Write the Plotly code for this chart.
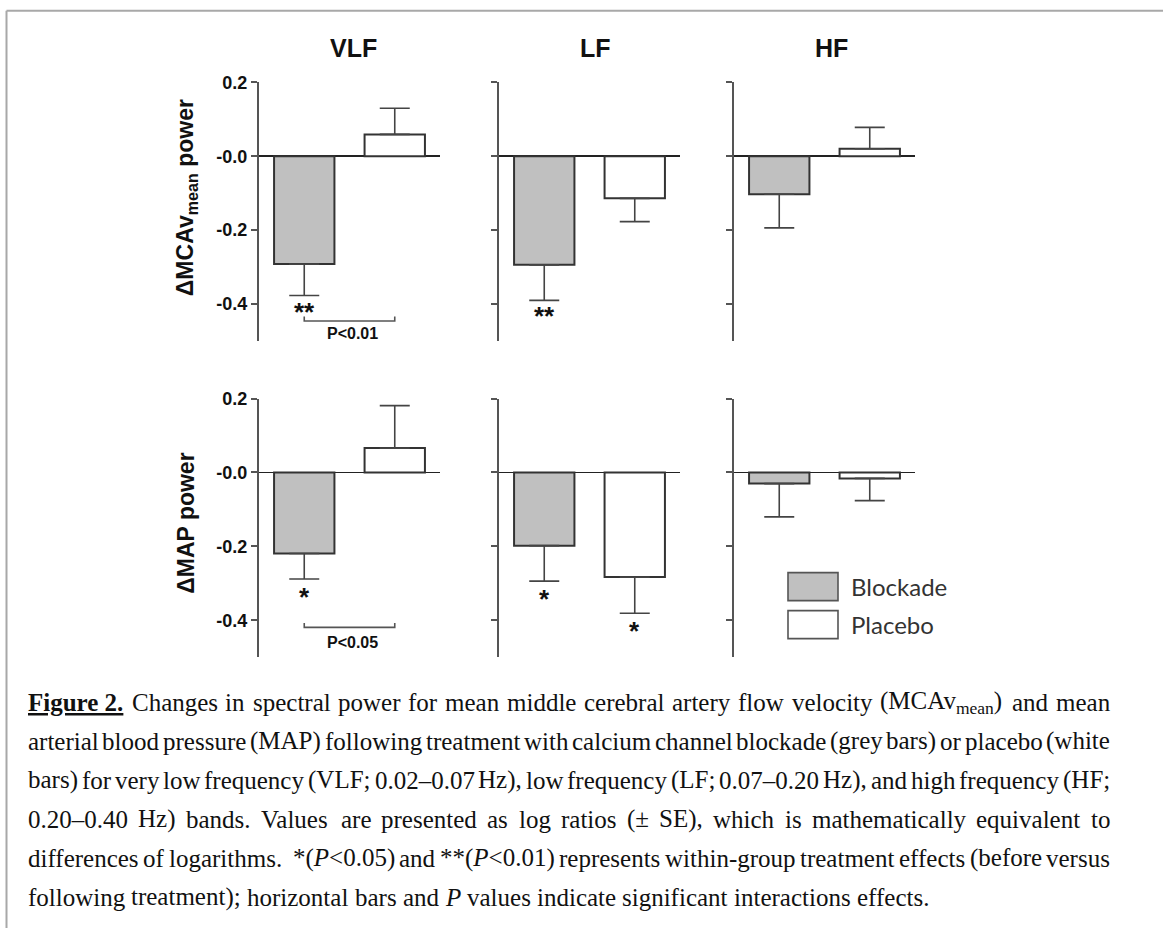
import re
import plotly.graph_objects as go

W, H = 1163, 928

# ---------------- data ----------------
groups = ["Blockade", "Placebo"]
bands = ["VLF", "LF", "HF"]
measures = ["ΔMCAv<sub>mean</sub> power", "ΔMAP power"]

# MCAv_mean power (top row): [blockade, placebo] per band
mcav_vals = {"VLF": [-0.292, 0.059], "LF": [-0.294, -0.114], "HF": [-0.103, 0.020]}
mcav_se = {"VLF": [0.085, 0.071], "LF": [0.096, 0.063], "HF": [0.091, 0.058]}
# MAP power (bottom row)
map_vals = {"VLF": [-0.219, 0.066], "LF": [-0.198, -0.283], "HF": [-0.030, -0.016]}
map_se = {"VLF": [0.069, 0.115], "LF": [0.096, 0.098], "HF": [0.090, 0.060]}

mcav_stars = {"VLF": ["**", ""], "LF": ["**", ""], "HF": ["", ""]}
map_stars = {"VLF": ["*", ""], "LF": ["*", "*"], "HF": ["", ""]}

# interaction brackets (band -> (y level, label, label y))
mcav_brackets = {"VLF": (-0.446, "P&lt;0.01", -0.481)}
map_brackets = {"VLF": (-0.419, "P&lt;0.05", -0.459)}

tick_vals = [0.2, 0.0, -0.2, -0.4]
tick_text = ["0.2", "-0.0", "-0.2", "-0.4"]
y_range = [-0.5, 0.2]

caption_lines = [
    "<b><u>Figure&nbsp;2.</u></b> Changes in spectral power for mean middle cerebral artery flow velocity (MCAv<sub>mean</sub>) and mean",
    "arterial blood pressure (MAP) following treatment with calcium channel blockade (grey bars) or placebo (white",
    "bars) for very low frequency (VLF; 0.02–0.07 Hz), low frequency (LF; 0.07–0.20 Hz), and high frequency (HF;",
    "0.20–0.40 Hz) bands. Values are presented as log ratios (± SE), which is mathematically equivalent to",
    "differences of logarithms.&nbsp; *(<i>P</i>&lt;0.05) and **(<i>P</i>&lt;0.01) represents within-group treatment effects (before versus",
    "following treatment); horizontal bars and <i>P</i> values indicate significant interactions effects.",
]

# ---------------- styling ----------------
GREY = "#c0c0c0"
WHITE = "#ffffff"
EDGE = "#333333"
AXC = "#555555"
SANS = "Liberation Sans, Arial, sans-serif"
SERIF = "Liberation Serif, Times New Roman, serif"

# vertical placement helper (page pixel from top -> paper fraction),
# corrected for the slight vertical offset/compression seen in the render
V_OFF, V_SCALE = 8.6, 0.9905


def py(ypx):
    return 1 - ((ypx - V_OFF) / V_SCALE) / H


col_left_px = [259, 499, 734]
panel_w_px = 181
row_top_px = [81, 397.7]
panel_h_px = 259

fig = go.Figure()
shapes = []
annotations = []

rows = [
    (mcav_vals, mcav_se, mcav_stars, mcav_brackets, -16),
    (map_vals, map_se, map_stars, map_brackets, -18),
]

n = 0
for r, (vals, ses, stars, brackets, star_shift) in enumerate(rows):
    for c, band in enumerate(bands):
        n += 1
        xa = "x" if n == 1 else f"x{n}"
        ya = "y" if n == 1 else f"y{n}"
        xl = col_left_px[c]
        yt = row_top_px[r]
        xdom = [xl / W, (xl + panel_w_px) / W]
        ydom = [py(yt + panel_h_px), py(yt)]
        v = vals[band]
        s = ses[band]
        up = [s[i] if v[i] >= 0 else 0 for i in range(2)]
        dn = [s[i] if v[i] < 0 else 0 for i in range(2)]
        fig.add_trace(go.Bar(
            x=groups, y=v, width=0.667,
            marker=dict(color=[GREY, WHITE], line=dict(color=EDGE, width=2)),
            error_y=dict(type="data", symmetric=False, array=up, arrayminus=dn,
                         color="#444444", thickness=1.6, width=15),
            xaxis=xa, yaxis=ya, showlegend=False, hoverinfo="skip",
        ))
        xkey = "xaxis" if n == 1 else f"xaxis{n}"
        ykey = "yaxis" if n == 1 else f"yaxis{n}"
        yax = dict(domain=ydom, range=y_range, anchor=xa,
                   showline=True, linecolor=AXC, linewidth=2,
                   ticks="outside", tickcolor=AXC, ticklen=6, tickwidth=2,
                   tickvals=tick_vals,
                   showticklabels=(c == 0),
                   tickfont=dict(family=SANS, size=18, color="#111111"),
                   zeroline=True, zerolinecolor="#222222", zerolinewidth=1.6,
                   showgrid=False, fixedrange=True)
        if c == 0:
            yax["ticktext"] = [f"<b>{t}</b>" for t in tick_text]
        fig.update_layout(**{
            xkey: dict(domain=xdom, range=[-0.5, 1.5], type="category",
                       categoryorder="array", categoryarray=groups,
                       visible=False, anchor=ya, fixedrange=True),
            ykey: yax,
        })
        # significance stars
        for i, st in enumerate(stars[band]):
            if st:
                annotations.append(dict(
                    x=i, y=v[i] - s[i], xref=xa, yref=ya, text=f"<b>{st}</b>",
                    showarrow=False, yanchor="middle", yshift=star_shift,
                    font=dict(family=SANS, size=26, color="#111111")))
        # interaction bracket
        if band in brackets:
            yb, lab, ylab = brackets[band]
            hook = 0.012
            shapes.append(dict(
                type="path", xref=xa, yref=ya,
                path=f"M 0,{yb + hook} L 0,{yb} L 1,{yb} L 1,{yb + hook}",
                line=dict(color=AXC, width=1.6)))
            annotations.append(dict(
                x=0.5, y=ylab, xref=xa, yref=ya, text=f"<b>{lab}</b>",
                showarrow=False, xshift=3,
                font=dict(family=SANS, size=16, color="#111111")))

# band titles
title_x_px = [353, 595, 831]
for c, band in enumerate(bands):
    annotations.append(dict(
        x=title_x_px[c] / W, y=py(47), xref="paper", yref="paper",
        text=f"<b>{band}</b>", showarrow=False, xanchor="center", yanchor="middle",
        font=dict(family=SANS, size=25, color="#111111")))

# y-axis titles
ytitle_y_px = [197, 523]
for r, m in enumerate(measures):
    annotations.append(dict(
        x=186 / W, y=py(ytitle_y_px[r]), xref="paper", yref="paper",
        text=f"<b>{m}</b>", textangle=-90, showarrow=False,
        xanchor="center", yanchor="middle",
        font=dict(family=SANS, size=23, color="#111111")))

# legend (drawn)
leg_boxes = [(572, 600, GREY), (610, 638, WHITE)]
for i, g in enumerate(groups):
    y0, y1, col = leg_boxes[i]
    shapes.append(dict(type="rect", xref="paper", yref="paper",
                       x0=788 / W, x1=838 / W, y0=py(y1), y1=py(y0),
                       fillcolor=col, line=dict(color="#555555", width=1.6)))
    annotations.append(dict(
        x=849 / W, y=py((y0 + y1) / 2), xref="paper", yref="paper",
        text=g, showarrow=False, xanchor="left", yanchor="middle",
        font=dict(family="Lato, Liberation Sans, sans-serif", size=24, color="#333333")))

# page frame
top_frame = 1 - 0.8 / H
shapes.append(dict(type="line", xref="paper", yref="paper",
                   x0=6.5 / W, x1=6.5 / W, y0=0, y1=top_frame,
                   line=dict(color="#a8a8a8", width=2)))
shapes.append(dict(type="line", xref="paper", yref="paper",
                   x0=6.5 / W, x1=1, y0=top_frame, y1=top_frame,
                   line=dict(color="#a8a8a8", width=2)))

# ---------------- caption (justified, word by word) ----------------
TR = {" ": 250, "!": 333, "(": 333, ")": 333, "*": 500, "+": 564, ",": 250, "-": 333,
      ".": 250, "/": 278, ":": 278, ";": 278, "<": 564, "=": 564, ">": 564, "–": 500,
      "±": 564, "\u00a0": 250,
      "A": 722, "B": 667, "C": 667, "D": 722, "E": 611, "F": 556, "G": 722, "H": 722,
      "I": 333, "J": 389, "K": 722, "L": 611, "M": 889, "N": 722, "O": 722, "P": 556,
      "Q": 722, "R": 667, "S": 556, "T": 611, "U": 722, "V": 722, "W": 944, "X": 722,
      "Y": 722, "Z": 611,
      "a": 444, "b": 500, "c": 444, "d": 500, "e": 444, "f": 333, "g": 500, "h": 500,
      "i": 278, "j": 278, "k": 500, "l": 278, "m": 778, "n": 500, "o": 500, "p": 500,
      "q": 500, "r": 333, "s": 389, "t": 278, "u": 500, "v": 500, "w": 722, "x": 500,
      "y": 500, "z": 444}
for d in "0123456789":
    TR[d] = 500
TB = {"F": 611, "i": 278, "g": 500, "u": 556, "r": 444, "e": 444, "2": 500, ".": 250,
      "\u00a0": 250}
TI = {"P": 611}


def word_width(word, fs):
    w = 0.0
    bold = ital = sub = False
    for tok in re.split(r"(<[^<>]+>|&[a-z]+;)", word):
        if not tok:
            continue
        if tok.startswith("<"):
            t = tok.strip("<>/").lower()
            on = not tok.startswith("</")
            if t == "b":
                bold = on
            elif t == "i":
                ital = on
            elif t == "sub":
                sub = on
            continue
        if tok == "&lt;":
            tok = "<"
        elif tok == "&nbsp;":
            tok = "\u00a0"
        for ch in tok:
            if bold and ch in TB:
                cw = TB[ch]
            elif ital and ch in TI:
                cw = TI[ch]
            else:
                cw = TR.get(ch, 500)
            w += cw * (0.7 if sub else 1.0)
    return w * fs / 1000.0


FS = 25
LEFT, RIGHT = 28, 1110
line_y0, line_step = 702, 39
for li, line in enumerate(caption_lines):
    words = line.split(" ")
    widths = [word_width(wd, FS) for wd in words]
    if li < len(caption_lines) - 1:
        gap = (RIGHT - LEFT - sum(widths)) / (len(words) - 1)
    else:
        gap = 250 * FS / 1000.0
    xpos = LEFT
    ypx = line_y0 + li * line_step
    for wd, wdw in zip(words, widths):
        annotations.append(dict(
            x=xpos / W, y=py(ypx), xref="paper", yref="paper", text=wd,
            showarrow=False, xanchor="left", yanchor="middle",
            borderpad=0, borderwidth=0,
            font=dict(family=SERIF, size=FS, color="#111111")))
        xpos += wdw + gap

fig.update_layout(
    width=W, height=H, margin=dict(l=0, r=0, t=0, b=0),
    paper_bgcolor="white", plot_bgcolor="rgba(0,0,0,0)",
    showlegend=False, bargap=0.3, hovermode=False,
    shapes=shapes, annotations=annotations,
)

fig.write_html(
    "out.html",
    config={"displayModeBar": False, "staticPlot": True},
    post_script=(
        "var st=document.createElement('style');"
        "st.textContent='html,body{margin:0!important;padding:0!important;"
        "overflow:hidden!important;}';"
        "document.head.appendChild(st);"
    ),
)
